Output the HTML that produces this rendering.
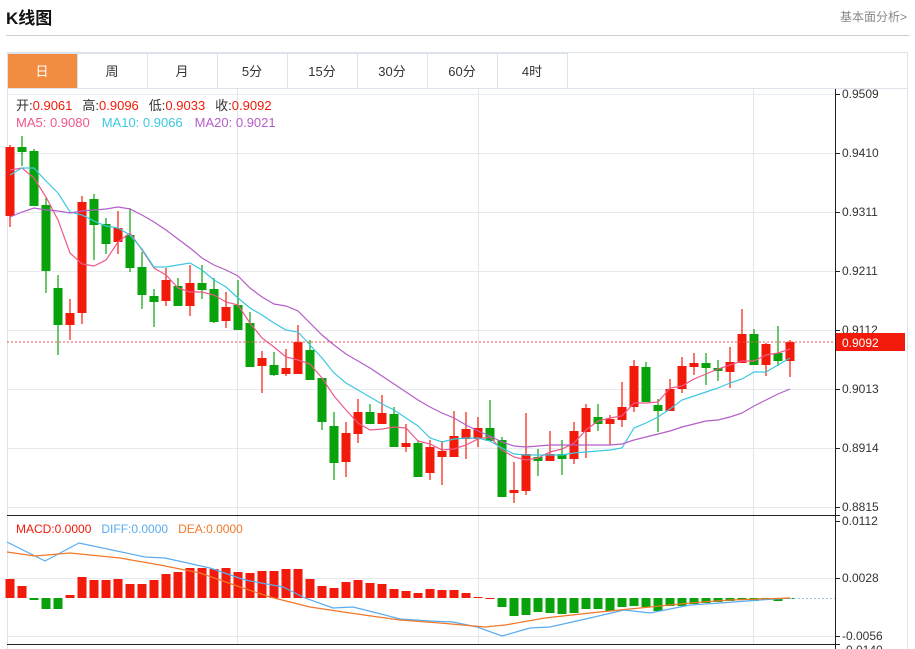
<!DOCTYPE html>
<html><head><meta charset="utf-8"><style>
body{margin:0;background:#fff;font-family:"Liberation Sans","Noto Sans CJK SC",sans-serif;}
#w{position:relative;width:915px;height:649px;overflow:hidden;}
.t{position:absolute;}
</style></head><body><div id="w">
<div class="t" style="left:6px;top:4px;font-size:17px;font-weight:bold;color:#111;">K线图</div>
<div class="t" style="right:8px;top:8px;font-size:12px;color:#888;">基本面分析&gt;</div>
<div class="t" style="left:6px;top:35px;width:903px;height:1px;background:#ccc;"></div>
<svg id="s" class="t" style="left:0;top:0" width="915" height="649" xmlns="http://www.w3.org/2000/svg"></svg>
</div>
<script>
let h='';
h+='<rect x="7.5" y="52.5" width="900" height="600" fill="none" stroke="#dde3ea"/>';
const tabs=['日','周','月','5分','15分','30分','60分','4时'];
tabs.forEach((t,i)=>{const x=7+70*i;
 h+=`<rect x="${x+0.5}" y="53.5" width="70" height="35" fill="${i==0?'#f28c40':'#fff'}" stroke="#dde3ea"/>`;
 h+=`<text x="${x+35}" y="76" text-anchor="middle" font-size="13" fill="${i==0?'#fff':'#333'}">${t}</text>`;});
h+='<line x1="7" y1="88.5" x2="907" y2="88.5" stroke="#dde3ea"/>';
[94,153,212,271,330,389,448,507].forEach(y=>h+=`<line x1="7" x2="835" y1="${y+.5}" y2="${y+.5}" stroke="#e6ebf0"/>`);
[578,636].forEach(y=>h+=`<line x1="7" x2="835" y1="${y+.5}" y2="${y+.5}" stroke="#e6ebf0"/>`);
[237,478,753].forEach(x=>h+=`<line x1="${x+.5}" x2="${x+.5}" y1="89" y2="645" stroke="#e0e6ec"/>`);
h+='<line x1="835.5" x2="835.5" y1="89" y2="649" stroke="#222"/>';
h+='<line x1="7" x2="840" y1="515.5" y2="515.5" stroke="#222"/>';
h+='<line x1="7" x2="840" y1="644.5" y2="644.5" stroke="#222"/>';
const pl=[['0.9509',94],['0.9410',153],['0.9311',212],['0.9211',271],['0.9112',330],['0.9013',389],['0.8914',448],['0.8815',507]];
pl.forEach(([t,y])=>{h+=`<line x1="835" x2="840" y1="${y+.5}" y2="${y+.5}" stroke="#222"/><text x="842" y="${y+4}" font-size="12" fill="#333">${t}</text>`});
[['0.0112',521],['0.0028',578],['-0.0056',636]].forEach(([t,y])=>{h+=`<line x1="835" x2="840" y1="${y+.5}" y2="${y+.5}" stroke="#222"/><text x="842" y="${y+4}" font-size="12" fill="#333">${t}</text>`});
h+='<text x="842" y="654" font-size="12" fill="#333">-0.0140</text>';
const C=[['r',147,216,145,227],['g',147,152,136,166],['g',151,206,149,206],['g',205,271,198,293],['g',288,325,275,355],['r',313,325,299,340],['r',202,313,196,324],['g',199,225,194,260],['g',224,244,218,254],['r',228,242,211,254],['g',235,268,208,272],['g',267,295,252,309],['g',296,302,289,327],['r',280,301,268,306],['g',286,306,278,306],['r',283,306,265,316],['g',283,290,265,299],['g',289,322,278,323],['r',307,321,292,328],['g',305,330,280,330],['g',323,367,312,367],['r',358,366,351,393],['g',365,375,352,376],['r',368,374,349,376],['r',342,374,325,374],['g',350,380,340,380],['g',378,422,378,430],['g',426,463,412,480],['r',433,462,422,477],['r',412,434,399,443],['g',412,424,404,424],['r',413,424,395,424],['g',414,447,407,447],['r',443,447,424,452],['g',443,477,440,477],['r',447,473,440,480],['r',451,457,441,485],['r',436,457,411,457],['r',429,439,412,459],['r',428,439,417,447],['g',428,441,400,441],['g',440,497,437,497],['r',490,493,462,503],['r',454,491,413,495],['g',457,461,449,476],['r',454,461,431,461],['g',454,459,440,475],['r',431,459,422,464],['r',408,432,404,458],['g',417,424,404,431],['r',419,424,415,445],['r',407,420,382,427],['r',366,407,360,412],['g',367,402,362,402],['g',405,411,399,432],['r',389,411,379,411],['r',366,389,357,393],['r',363,367,353,375],['g',363,368,353,385],['g',368,371,360,381],['r',362,372,347,388],['r',334,363,309,363],['g',334,365,329,365],['r',344,365,343,376],['g',353,361,326,366],['r',342,361,340,377]];
C.forEach((c,i)=>{const x=10+12*i,col=c[0]=='r'?'#f21a0a':'#08a30c';
 h+=`<line x1="${x}" x2="${x}" y1="${c[3]}" y2="${c[4]}" stroke="${col}" stroke-width="1.2"/>`;
 h+=`<rect x="${x-4.5}" y="${c[1]}" width="9" height="${Math.max(2,c[2]-c[1])}" fill="${col}"/>`;});
const xs=i=>10+12*i;
function line(ys,col){let p=ys.map((y,i)=>`${xs(i)},${y}`).join(' ');h+=`<polyline points="${p}" fill="none" stroke="${col}" stroke-width="1.2"/>`;}
line([170,168,178,197,220,253,264,266,260,242,233,250,268,275,288,292,292,295,302,305,323,338,347,357,360,364,378,396,410,423,430,429,427,428,441,444,450,449,445,439,437,450,457,460,458,452,449,443,430,421,418,416,403,403,402,388,386,379,374,369,365,361,361,355,353,349],'#f0578a');
line([175,168,168,181,193,212,215,221,226,228,235,249,267,267,265,263,270,280,287,298,308,315,323,330,332,345,358,373,383,390,397,404,410,418,426,438,442,439,438,438,441,448,454,455,455,455,455,453,452,451,450,448,428,423,417,409,400,396,392,388,383,379,372,372,365,358],'#3cc8e0');
line([217,212,208,210,211,213,211,210,209,207,209,215,222,230,239,248,258,265,270,276,288,297,304,306,311,323,335,345,354,361,368,376,384,392,400,407,413,418,425,431,436,442,446,447,446,445,445,445,445,445,445,444,440,437,434,431,427,424,421,420,417,413,406,400,394,389],'#b45ec8');
h+='<line x1="7" x2="835" y1="342" y2="342" stroke="#f05050" stroke-dasharray="2,2"/>';
h+='<rect x="836" y="333" width="69" height="18" fill="#f21a0a"/><text x="842" y="347" font-size="12" fill="#fff">0.9092</text>';
h+='<text x="16" y="110" font-size="13"><tspan fill="#333">开:</tspan><tspan fill="#f21a0a">0.9061</tspan><tspan fill="#333" dx="10">高:</tspan><tspan fill="#f21a0a">0.9096</tspan><tspan fill="#333" dx="10">低:</tspan><tspan fill="#f21a0a">0.9033</tspan><tspan fill="#333" dx="10">收:</tspan><tspan fill="#f21a0a">0.9092</tspan></text>';
h+='<text x="16" y="127" font-size="13"><tspan fill="#f0578a">MA5: 0.9080</tspan><tspan fill="#3cc8e0" dx="12">MA10: 0.9066</tspan><tspan fill="#b45ec8" dx="12">MA20: 0.9021</tspan></text>';
h+='<text x="16" y="533" font-size="12"><tspan fill="#f21a0a">MACD:0.0000</tspan><tspan fill="#5aacf0" dx="10">DIFF:0.0000</tspan><tspan fill="#f07828" dx="10">DEA:0.0000</tspan></text>';
const Z=598,B=[579,586,600,609,609,595,577,580,580,579,584,584,580,574,572,568,568,569,568,572,573,571,571,569,569,579,586,588,582,580,583,584,589,591,593,589,590,590,593,597,598,607,616,615,612,613,614,613,609,609,611,607,606,607,611,606,606,604,603,602,601,600,601,599,601,599];
B.forEach((y,i)=>{const x=xs(i),col=y<=Z?'#f21a0a':'#08a30c';const t=Math.min(y,Z),hh=Math.max(1,Math.abs(y-Z));h+=`<rect x="${x-4.5}" y="${t}" width="9" height="${hh}" fill="${col}"/>`;});
h+='<line x1="790" x2="835" y1="598.5" y2="598.5" stroke="#9cc8ee" stroke-dasharray="2,2"/>';
h+='<polyline fill="none" stroke="#5aacf0" stroke-width="1.2" points="7,542 45,561 79,543 145,557 165,558 210,568 245,580 283,587 305,598 333,608 353,607 377,613 400,619 430,621 453,622 477,627 502,636 530,628 550,627 590,618 624,610 650,613 690,605 720,603 760,600 790,598"/>';
h+='<polyline fill="none" stroke="#f07828" stroke-width="1.2" points="7,552 35,556 70,553 120,558 160,565 200,573 240,587 270,597 310,607 350,613 400,620 440,623 485,627 505,625 545,618 590,613 640,608 690,603 730,600 790,598"/>';
document.getElementById('s').innerHTML=h;
</script></body></html>
